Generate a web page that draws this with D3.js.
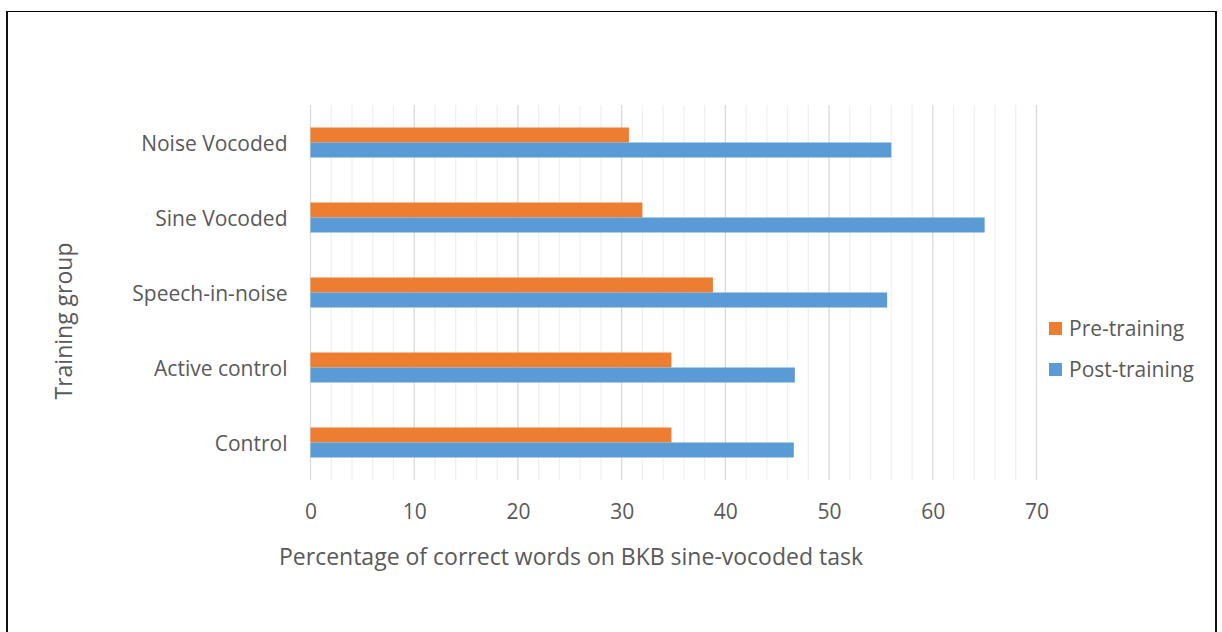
<!DOCTYPE html>
<html>
<head>
<meta charset="utf-8">
<script src="https://cdn.jsdelivr.net/npm/d3@7"></script>
<style>
  html, body { margin: 0; padding: 0; background: #fff; }
  svg { display: block; }
  text { font-family: "Open Sans", "Liberation Sans", sans-serif; fill: #595959; }
</style>
</head>
<body>
<svg id="chart" width="1222" height="632"></svg>
<script>
// Training groups, top to bottom as drawn
const groups = ["Noise Vocoded", "Sine Vocoded", "Speech-in-noise", "Active control", "Control"];
// Percentage of correct words, per group
const preTraining  = [30.7, 32.0, 38.8, 34.8, 34.8];
const postTraining = [56.0, 65.0, 55.6, 46.7, 46.6];
const seriesNames  = ["Pre-training", "Post-training"];
const seriesColors = ["#ED7D31", "#5B9BD5"];
const xTicks = [0, 10, 20, 30, 40, 50, 60, 70];

const svg = d3.select("#chart");

// outer frame
svg.append("rect")
  .attr("x", 7).attr("y", 11.5).attr("width", 1209).attr("height", 640)
  .attr("fill", "none").attr("stroke", "#000").attr("stroke-width", 1);
svg.append("line").attr("x1", 7).attr("x2", 7).attr("y1", 11).attr("y2", 632)
  .attr("stroke", "#111").attr("stroke-width", 2);
svg.append("line").attr("x1", 1216).attr("x2", 1216).attr("y1", 11).attr("y2", 632)
  .attr("stroke", "#111").attr("stroke-width", 2);

const plot = { left: 310.5, right: 1036.5, top: 105, bottom: 480 };

const x = d3.scaleLinear().domain([0, 70]).range([plot.left, plot.right]);
const y = d3.scaleBand().domain(groups).range([plot.top, plot.bottom]).paddingInner(0.6).paddingOuter(0.3);
const ySub = d3.scaleBand().domain(seriesNames).range([0, y.bandwidth()]);

// minor gridlines every 2
const minor = d3.range(0, 71, 2).filter(v => v % 10 !== 0);
svg.append("g").selectAll("line").data(minor).join("line")
  .attr("x1", d => x(d)).attr("x2", d => x(d))
  .attr("y1", plot.top).attr("y2", plot.bottom)
  .attr("stroke", "#f0f0f0").attr("stroke-width", 1.3);

// major gridlines
svg.append("g").selectAll("line").data(xTicks).join("line")
  .attr("x1", d => x(d)).attr("x2", d => x(d))
  .attr("y1", plot.top).attr("y2", plot.bottom)
  .attr("stroke", "#d9d9d9").attr("stroke-width", 1.3);

// bars
const rows = groups.map((g, i) => ({ g, vals: [preTraining[i], postTraining[i]] }));
const gRows = svg.append("g").selectAll("g").data(rows).join("g")
  .attr("transform", d => `translate(0,${y(d.g)})`);
gRows.selectAll("rect").data(d => d.vals.map((v, j) => ({ v, s: seriesNames[j], c: seriesColors[j] })))
  .join("rect")
  .attr("x", x(0))
  .attr("y", d => ySub(d.s))
  .attr("width", d => x(d.v) - x(0))
  .attr("height", ySub.bandwidth())
  .attr("fill", d => d.c);

// x axis tick labels
const xAxis = d3.axisBottom(x).tickValues(xTicks).tickSize(0).tickPadding(0);
const gx = svg.append("g").attr("transform", `translate(0,${plot.bottom})`).call(xAxis);
gx.select(".domain").remove();
gx.selectAll("text").attr("font-size", 21).attr("y", 39).attr("dy", 0)
  .style("font-family", "\"Open Sans\", sans-serif").attr("fill", "#595959");

// y axis category labels
const yAxis = d3.axisLeft(y).tickSize(0).tickPadding(23);
const gy = svg.append("g").attr("transform", `translate(${plot.left},0)`).call(yAxis);
gy.select(".domain").remove();
gy.selectAll("text").attr("font-size", 21).attr("dy", "0.42em")
  .style("font-family", "\"Open Sans\", sans-serif").attr("fill", "#595959");

// axis titles
svg.append("text")
  .attr("x", 571).attr("y", 565)
  .attr("text-anchor", "middle").attr("font-size", 23)
  .text("Percentage of correct words on BKB sine-vocoded task");
svg.append("text")
  .attr("transform", "translate(72,321) rotate(-90)")
  .attr("text-anchor", "middle").attr("font-size", 23)
  .text("Training group");

// legend
const legend = svg.append("g").selectAll("g").data(seriesNames).join("g")
  .attr("transform", (d, i) => `translate(1049,${322 + i * 41})`);
legend.append("rect").attr("width", 13).attr("height", 13)
  .attr("fill", (d, i) => seriesColors[i]);
legend.append("text").attr("x", 20).attr("y", 6.5).attr("dy", "0.35em")
  .attr("font-size", 21).text(d => d);
</script>
</body>
</html>
